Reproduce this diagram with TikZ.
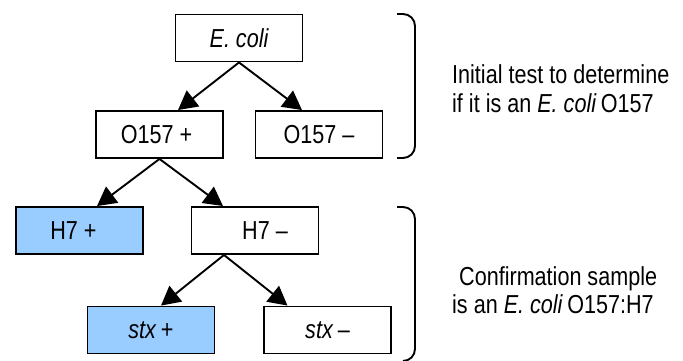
\documentclass[tikz,border=0pt]{standalone}
\usepackage{fontspec}
\setmainfont{Liberation Sans}[FakeStretch=0.83]
\usetikzlibrary{arrows.meta}
\definecolor{boxblue}{HTML}{99CCFF}
\begin{document}
\begin{tikzpicture}[x=1pt,y=-1pt,
  box/.style={draw, line width=1.9pt, minimum width=127pt, minimum height=47pt, inner sep=0pt, font=\fontsize{26}{30}\selectfont},
  hit/.style={box, fill=boxblue},
  arr/.style={line width=1.9pt, -{Triangle[length=19pt,width=20pt]}},
  side/.style={anchor=base west, inner sep=0pt, font=\fontsize{26}{30}\selectfont},
  brk/.style={line width=1.9pt, rounded corners=12pt}]
\useasboundingbox (0,0) rectangle (683,360);
\node[box] (ecoli) at (239,38) {\itshape E. coli};
\node[box] (opos) at (159.5,134.5) {O157 +\hspace*{6pt}};
\node[box] (oneg) at (319,134.5) {O157 –};
\node[hit] (hpos) at (79.5,230.5) {H7 +\hspace*{12pt}};
\node[box] (hneg) at (255,230.5) {\hspace*{20pt}H7 –};
\node[hit] (spos) at (151,330) {\textit{stx}\,+};
\node[box] (sneg) at (327.5,330) {\textit{stx}\,–};
\draw[arr] (ecoli.south) -- ([xshift=18.5pt]opos.north);
\draw[arr] (ecoli.south) -- ([xshift=-17pt]oneg.north);
\draw[arr] (opos.south) -- ([xshift=17.5pt]hpos.north);
\draw[arr] (opos.south) -- ([xshift=-32pt]hneg.north);
\draw[arr] ([xshift=-31pt]hneg.south) -- ([xshift=10pt]spos.north);
\draw[arr] ([xshift=-31pt]hneg.south) -- ([xshift=-40pt]sneg.north);
\draw[brk] (397,14) -- (415,14) -- (415,158) -- (397,158);
\draw[brk] (397,207) -- (415,207) -- (415,361) -- (405,361);
\node[side] (t1a) at (452,83) {Initial test to determine};
\node[side] (t1b) at (452,112) {if it is an \textit{E. coli}\,O157};
\node[side] (t2a) at (459,285) {Confirmation sample};
\node[side] (t2b) at (452,313) {is an \textit{E. coli}\,O157:H7};
\end{tikzpicture}
\end{document}
